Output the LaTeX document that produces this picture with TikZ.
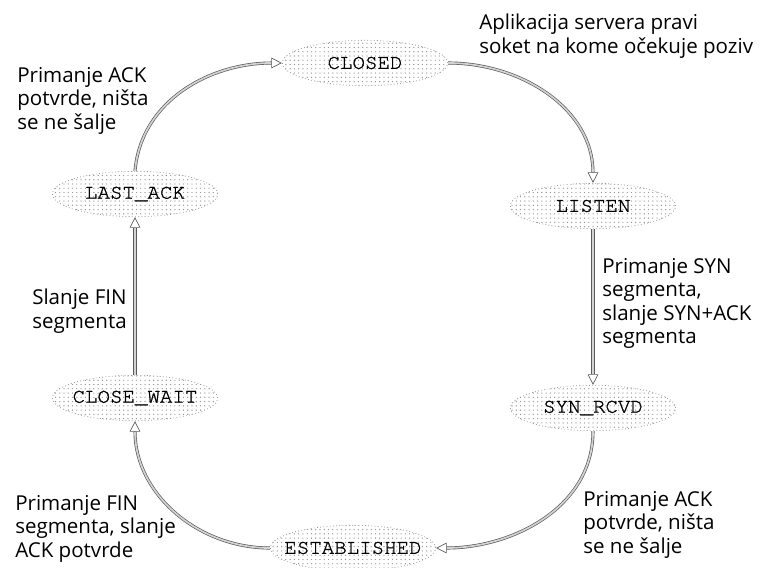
\documentclass[tikz,border=0pt]{standalone}
\usepackage{fontspec}
\setmainfont{Open Sans}
\newfontfamily\statefont[FakeBold=1.2]{TeX Gyre Cursor}
\usetikzlibrary{arrows.meta,patterns.meta,shapes.geometric}

\begin{document}
\begin{tikzpicture}[x=0.75pt,y=-0.75pt,line join=round,
	state/.style={shape=ellipse,pattern={Dots[radius=0.5pt,distance=3.2pt]},pattern color=gray!85,
		draw=gray!80,line width=0.6pt,dash pattern=on 0.6pt off 1.8pt,
		inner xsep=-10pt,inner ysep=0pt,minimum width=124pt,minimum height=34pt,
		font=\fontsize{15.6}{18}\statefont},
	note/.style={align=left,anchor=north west,inner sep=0pt,font=\fontsize{15.4}{17.6}\selectfont},
	flow/.style={draw=black!65,line width=0.5pt,double=gray!35,double distance=1.3pt,
		-{Triangle[open,length=8pt,width=8pt]}}]
	\useasboundingbox (0,0) rectangle (769,568);
	% states of the server side
	\node[state] (closed) at (365,63) {CLOSED};
	\node[state] (listen) at (593,206) {LISTEN};
	\node[state] (synrcvd) at (593,408) {SYN\_RCVD};
	\node[state] (estab) at (353,548) {ESTABLISHED};
	\node[state] (closewait) at (135,398) {CLOSE\_WAIT};
	\node[state] (lastack) at (135,194) {LAST\_ACK};
	% transitions
	\draw[flow] (closed.east) to[out=0,in=90] (listen.north);
	\draw[flow] (listen.south) -- (synrcvd.north);
	\draw[flow] (synrcvd.south) to[out=-90,in=0] (estab.east);
	\draw[flow] (estab.west) to[out=180,in=-90] (closewait.south);
	\draw[flow] (closewait.north) -- (lastack.south);
	\draw[flow] (lastack.north) to[out=85,in=180] (closed.west);
	% labels
	\node[note] (tlisten) at (479,14) {Aplikacija servera pravi\\soket na kome očekuje poziv};
	\node[note] (tsyn) at (602,258) {Primanje SYN\\segmenta,\\slanje SYN+ACK\\segmenta};
	\node[note] (tack) at (583,491) {Primanje ACK\\potvrde, ništa\\se ne šalje};
	\node[note] (tfin) at (15,495) {Primanje FIN\\segmenta, slanje\\ACK potvrde};
	\node[note] (tsend) at (32,289) {Slanje FIN\\segmenta};
	\node[note] (tlast) at (17,67) {Primanje ACK\\potvrde, ništa\\se ne šalje};
\end{tikzpicture}
\end{document}
